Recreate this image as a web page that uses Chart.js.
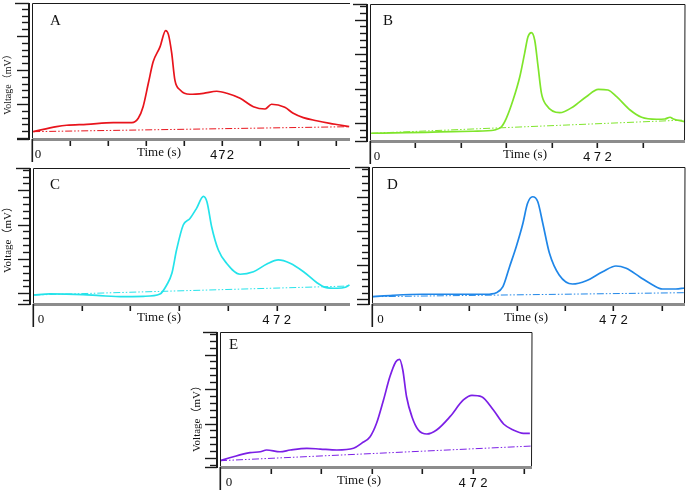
<!DOCTYPE html>
<html>
<head>
<meta charset="utf-8">
<script src="https://cdn.jsdelivr.net/npm/chart.js@4"></script>
<style>
  body { margin: 0; background: #fff; }
  #wrap { position: relative; width: 688px; height: 492px; overflow: hidden; }
  canvas { position: absolute; }
</style>
</head>
<body>
<div id="wrap">
  <canvas id="chartA"></canvas>
  <canvas id="chartB"></canvas>
  <canvas id="chartC"></canvas>
  <canvas id="chartD"></canvas>
  <canvas id="chartE"></canvas>
</div>
<script>
// DATA (time in s, voltage in ruler units)
const timeA = [3, 61, 86, 136, 202, 248, 264, 276, 289, 301, 318, 332, 339, 347, 355, 368, 392, 426, 459, 484, 517, 550, 579, 595, 628, 649, 674, 707, 740, 765, 788];
const voltA = [0.93, 1.66, 1.87, 2.01, 2.25, 2.25, 2.9, 4.6, 8.04, 11.2, 13.4, 15.8, 15.2, 12.5, 8.5, 7.06, 6.43, 6.57, 6.87, 6.57, 5.84, 4.6, 4.26, 4.96, 4.51, 3.63, 2.99, 2.54, 2.16, 1.91, 1.66];
const baseTimeA = [3, 788];
const baseVoltA = [0.93, 1.66];

const timeB = [2.5, 75, 144, 214, 259, 273, 283, 297, 311, 321, 328, 335, 342, 349, 356, 366, 394, 422, 449, 474, 494, 512, 540, 564, 595, 612, 623, 630, 654];
const voltB = [-1.49, -1.41, -1.30, -1.20, -1.01, -0.54, 0.68, 3.33, 6.71, 10.1, 12.5, 13.1, 12.0, 8.16, 4.30, 2.61, 1.49, 2.36, 3.81, 4.88, 4.78, 3.81, 1.88, 0.83, 0.54, 0.58, 0.83, 0.58, 0.19];
const baseTimeB = [2.5, 654];
const baseVoltB = [-1.49, 0.43];

const timeC = [0.6, 33, 97, 130, 175, 214, 246, 259, 269, 278, 291, 304, 317, 330, 337, 346, 359, 375, 401, 427, 453, 475, 498, 524, 550, 566, 589, 605, 613];
const voltC = [-0.25, -0.10, -0.20, -0.35, -0.49, -0.44, -0.10, 1.21, 2.91, 6.30, 9.94, 10.9, 12.4, 14.1, 13.3, 9.69, 6.30, 4.37, 2.77, 3.14, 4.26, 4.85, 4.37, 3.14, 1.54, 0.87, 0.73, 0.87, 1.21];
const baseTimeC = [0.6, 613];
const baseVoltC = [-0.25, 1.06];

const timeD = [1.6, 41, 99, 165, 223, 243, 256, 269, 282, 295, 304, 314, 324, 334, 347, 366, 392, 419, 451, 477, 497, 523, 549, 568, 594, 611];
const voltD = [0.41, 0.61, 0.76, 0.76, 0.76, 0.99, 1.87, 4.79, 7.71, 11.1, 14.0, 15.0, 14.3, 11.1, 6.74, 3.58, 2.26, 2.74, 4.06, 4.89, 4.55, 3.33, 2.12, 1.53, 1.53, 1.68];
const baseTimeD = [1.6, 611];
const baseVoltD = [0.41, 0.99];

const timeE = [0, 25, 56, 75, 87, 112, 131, 162, 187, 218, 249, 264, 280, 292, 305, 317, 328, 335, 341, 348, 358, 370, 386, 404, 429, 454, 470, 488, 510, 529, 547, 566, 578];
const voltE = [-0.39, 0.19, 0.77, 0.91, 1.16, 0.91, 1.16, 1.41, 1.30, 1.16, 1.41, 2.13, 3.09, 5.03, 8.41, 11.8, 13.96, 14.3, 12.75, 8.88, 5.99, 4.06, 3.48, 4.06, 5.99, 8.41, 9.09, 8.88, 6.96, 4.93, 4.06, 3.58, 3.58];
const baseTimeE = [0, 582];
const baseVoltE = [-0.39, 1.74];

const xTickLabels = [0, 472];
const xTickStep = 94.4;
const xTitle = 'Time (s)';
const yTitle = 'Voltage（mV）';

// RULER PLUGIN (frame, tick rulers, labels)
const rulerPlugin = {
  id: 'ruler',
  afterDraw(chart, args, o) {
    const ctx = chart.ctx;
    const a = chart.chartArea;
    const xs = chart.scales.x, ys = chart.scales.y;
    ctx.save();
    ctx.strokeStyle = '#1a1a1a';
    ctx.lineWidth = 1;

    // frame
    ctx.beginPath();
    ctx.moveTo(a.left + 0.5, a.bottom);
    ctx.lineTo(a.left + 0.5, a.top + 0.5);
    ctx.lineTo(a.right, a.top + 0.5);
    if (o.rightBorder) ctx.lineTo(a.right - 0.5, a.bottom);
    ctx.stroke();
    ctx.fillStyle = '#8c8c8c';
    ctx.fillRect(a.left, a.bottom - 1, a.right - a.left, 3);

    // y ruler
    const sx = a.left - 3;
    ctx.fillStyle = '#1a1a1a';
    ctx.fillRect(sx - 1, a.top, 2, a.bottom - a.top + 1);
    ctx.lineWidth = 1.4;
    const tick = (py, len) => {
      ctx.beginPath();
      ctx.moveTo(sx - len, py);
      ctx.lineTo(sx, py);
      ctx.stroke();
    };
    tick(a.top + 0.5, 14);
    tick(a.bottom + 0.5, 12);
    for (let v = Math.ceil(ys.min); v <= ys.max; v++) {
      tick(Math.round(ys.getPixelForValue(v)) + 0.5, v % 5 === 0 ? 12 : 7);
    }

    // x ruler
    ctx.fillRect(a.left - 0.5, a.bottom, 1.6, 23);
    for (let t = xTickStep; t <= xs.max; t += xTickStep) {
      const px = Math.round(xs.getPixelForValue(t));
      ctx.fillRect(px - 0.5, a.bottom + 2, 1.6, 5);
    }

    // tick labels
    ctx.fillStyle = '#111';
    ctx.textAlign = 'center';
    ctx.textBaseline = 'alphabetic';
    xTickLabels.forEach(v => {
      const px = xs.getPixelForValue(v);
      if (v === 0) {
        ctx.font = '13px "Liberation Serif"';
        ctx.fillText(String(v), px + o.zeroDx, a.bottom + 19);
      } else {
        ctx.font = '13px "Liberation Mono"';
        ctx.letterSpacing = o.spacing + 'px';
        ctx.fillText(String(v), px + o.spacing / 2, a.bottom + 20);
        ctx.letterSpacing = '0px';
      }
    });

    // axis titles and panel letter
    ctx.font = '13px "Liberation Serif"';
    ctx.fillText(xTitle, a.left + o.timeDx, a.bottom + 17);
    ctx.textAlign = 'left';
    ctx.font = '15px "Liberation Serif"';
    ctx.fillText(o.letter, a.left + o.letterDx, a.top + o.letterDy);
    if (o.yLabel) {
      ctx.save();
      ctx.translate(a.left - o.yLabelDx, a.top + o.yLabelDy);
      ctx.rotate(-Math.PI / 2);
      ctx.font = o.yLabelSize + 'px "Liberation Serif", "Noto Sans CJK SC"';
      ctx.textAlign = 'center';
      ctx.textBaseline = 'middle';
      ctx.fillText(yTitle, 0, 0);
      ctx.restore();
    }
    ctx.restore();
  }
};

function toPoints(xs, ys) {
  return xs.map((x, i) => ({ x: x, y: ys[i] }));
}

function makePanel(p) {
  const cv = document.getElementById(p.id);
  cv.width = p.r - p.l + 35;
  cv.height = p.b - p.t + 33;
  cv.style.left = (p.l - 32) + 'px';
  cv.style.top = (p.t - 3) + 'px';
  return new Chart(cv.getContext('2d'), {
    type: 'line',
    data: {
      datasets: [{
        data: toPoints(p.time, p.volt),
        borderColor: p.color,
        borderWidth: 1.7,
        cubicInterpolationMode: 'monotone',
        pointRadius: 0
      }, {
        data: toPoints(p.baseTime, p.baseVolt),
        borderColor: p.color,
        borderWidth: 1,
        borderDash: [7, 2, 1.5, 2, 1.5, 2],
        pointRadius: 0
      }]
    },
    options: {
      responsive: false,
      animation: false,
      layout: { padding: { left: 32, top: 3, right: 3, bottom: 30 } },
      scales: {
        x: { type: 'linear', display: false, min: 0, max: p.xMax },
        y: { display: false, min: p.yMin, max: p.yMax }
      },
      plugins: {
        legend: { display: false },
        tooltip: { enabled: false },
        ruler: p.ruler
      }
    },
    plugins: [rulerPlugin]
  });
}

// PANELS
makePanel({ id: 'chartA', l: 32, t: 3, r: 350, b: 139, xMax: 790, yMin: -0.15, yMax: 19.85, color: '#e8141c',
  time: timeA, volt: voltA, baseTime: baseTimeA, baseVolt: baseVoltA,
  ruler: { letter: 'A', rightBorder: false, zeroDx: 6, spacing: 0.5, timeDx: 127, letterDx: 18, letterDy: 22,
    yLabel: true, yLabelDx: 24, yLabelDy: 79, yLabelSize: 10 } });

makePanel({ id: 'chartB', l: 370, t: 4, r: 685, b: 141, xMax: 654, yMin: -2.61, yMax: 17.25, color: '#7fe52b',
  time: timeB, volt: voltB, baseTime: baseTimeB, baseVolt: baseVoltB,
  ruler: { letter: 'B', rightBorder: true, zeroDx: 7, spacing: 3, timeDx: 155, letterDx: 13, letterDy: 21, yLabel: false } });

makePanel({ id: 'chartC', l: 33, t: 168, r: 350, b: 304, xMax: 614, yMin: -1.56, yMax: 18.24, color: '#24e3ea',
  time: timeC, volt: voltC, baseTime: baseTimeC, baseVolt: baseVoltC,
  ruler: { letter: 'C', rightBorder: false, zeroDx: 8, spacing: 3, timeDx: 126, letterDx: 17, letterDy: 21,
    yLabel: true, yLabelDx: 25, yLabelDy: 69, yLabelSize: 11 } });

makePanel({ id: 'chartD', l: 372, t: 167, r: 685, b: 304, xMax: 612, yMin: -0.66, yMax: 19.34, color: '#1f86e8',
  time: timeD, volt: voltD, baseTime: baseTimeD, baseVolt: baseVoltD,
  ruler: { letter: 'D', rightBorder: true, zeroDx: 8.5, spacing: 3, timeDx: 154, letterDx: 15, letterDy: 22, yLabel: false } });

makePanel({ id: 'chartE', l: 220, t: 332, r: 532, b: 467, xMax: 582, yMin: -1.3, yMax: 18.26, color: '#7b1fe6',
  time: timeE, volt: voltE, baseTime: baseTimeE, baseVolt: baseVoltE,
  ruler: { letter: 'E', rightBorder: true, zeroDx: 9, spacing: 3, timeDx: 139, letterDx: 9, letterDy: 17,
    yLabel: true, yLabelDx: 23, yLabelDy: 84, yLabelSize: 11 } });
</script>
</body>
</html>
